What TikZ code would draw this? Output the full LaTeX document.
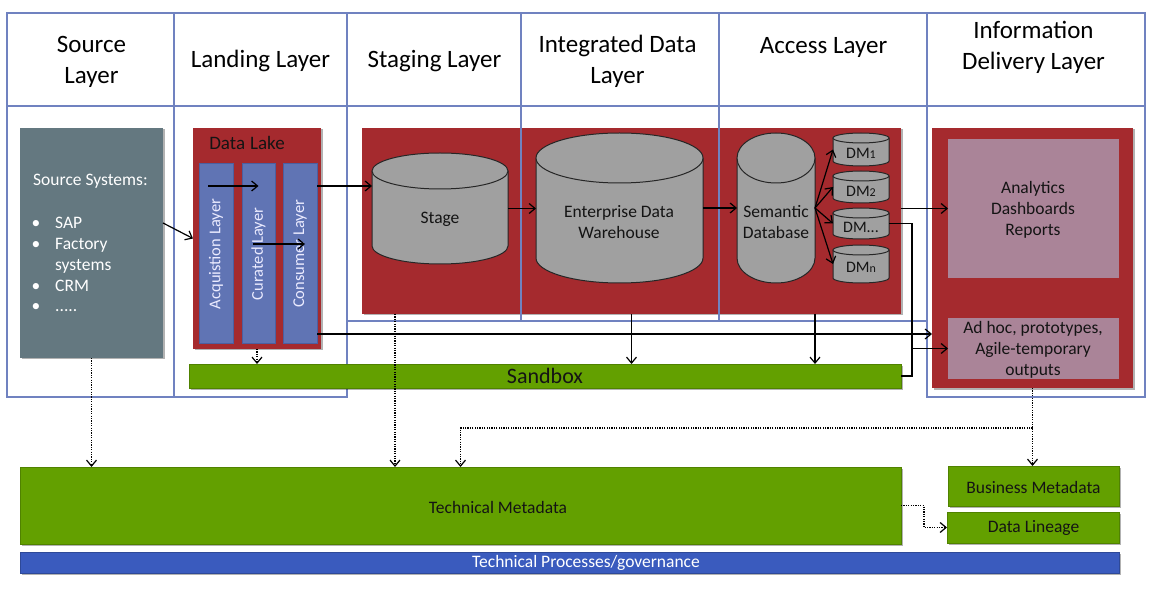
\documentclass[tikz,border=0pt]{standalone}
\usepackage{fontspec}
\setmainfont{Carlito}
\usetikzlibrary{arrows.meta,shadows,calc}
\definecolor{frameblue}{RGB}{112,130,192}
\definecolor{srcgray}{RGB}{100,120,128}
\definecolor{lakered}{RGB}{165,42,46}
\definecolor{colblue}{RGB}{96,116,180}
\definecolor{colbluedark}{RGB}{75,95,160}
\definecolor{cylgray}{RGB}{160,160,160}
\definecolor{pinkbox}{RGB}{170,132,152}
\definecolor{sgreen}{RGB}{99,160,0}
\definecolor{sgreendark}{RGB}{80,130,0}
\definecolor{procblue}{RGB}{58,91,190}
\definecolor{txtdark}{RGB}{20,20,20}
\newcommand\mycyl[6]{%
  \pgfmathsetmacro\cx{(#2+#3)/2}%
  \pgfmathsetmacro\rx{(#3-#2)/2}%
  \pgfmathsetmacro\ya{#4+#6}%
  \pgfmathsetmacro\yb{#5-#6}%
  \pgfmathsetmacro\cy{(#4+#5)/2}%
  \pgfmathsetmacro\cw{#3-#2}%
  \pgfmathsetmacro\ch{#5-#4}%
  \fill[cylgray] (#2,\ya) rectangle (#3,\yb);
  \fill[cylgray] (\cx,\yb) ellipse[x radius=\rx, y radius=#6];
  \draw[cylline] (#2,\ya) -- (#2,\yb) arc[start angle=180, end angle=0, x radius=\rx, y radius=#6] -- (#3,\ya);
  \filldraw[fill=cylgray, cylline] (\cx,\ya) ellipse[x radius=\rx, y radius=#6];
  \node[box, minimum width=\cw pt, minimum height=\ch pt] (#1) at (\cx,\cy) {};
}
\begin{document}
\begin{tikzpicture}[x=1pt,y=-1pt,
  frame/.style={draw=frameblue, line width=2pt},
  box/.style={inner sep=0pt, outer sep=0pt},
  shad/.style={drop shadow={shadow xshift=1.5pt,shadow yshift=-1.5pt,opacity=0.3,fill=black}},
  hdr/.style={font=\fontsize{25}{31}\selectfont, align=center, inner sep=0pt, text=black},
  txt/.style={font=\fontsize{17.5}{21}\selectfont, align=center, inner sep=0pt, text=txtdark},
  wtxt/.style={font=\fontsize{17.5}{21}\selectfont, inner sep=0pt, text=white},
  rtxt/.style={font=\fontsize{16.5}{18}\selectfont, inner sep=0pt, text=white!92!blue, rotate=90},
  dmtxt/.style={font=\fontsize{16}{18}\selectfont, inner sep=0pt, text=txtdark},
  arr/.style={-{Straight Barb[length=6pt,width=10pt,line width=1.2pt]}, line width=1.2pt, black},
  dots/.style={arr, dash pattern=on 1.2pt off 1.2pt},
  plain/.style={line width=1.2pt, black},
  cylline/.style={draw=black!85, line width=1pt},
  greenbox/.style={box, shad, fill=sgreen, draw=sgreendark, line width=0.6pt},
  colbox/.style={box, fill=colblue, draw=colbluedark, line width=0.8pt, minimum width=34pt, minimum height=180pt}
]
\useasboundingbox (0,0) rectangle (1156,601);

% big red box (under frames)
\node[box, shad, fill=lakered, minimum width=539pt, minimum height=186pt] (bigred) at (631.5,221) {};

% layer frames
\draw[frame] (7,13) rectangle (174,397);
\draw[frame] (174,13) rectangle (347,397);
\draw[frame] (347,13) rectangle (521,321);
\draw[frame] (521,13) rectangle (719,321);
\draw[frame] (719,13) rectangle (927,321);
\draw[frame] (927,13) rectangle (1145,397);
\draw[frame] (7,106) -- (1145,106);

% headers
\node[hdr] (hsrc) at (91.5,61.5) {Source\\Layer};
\node[hdr] (hland) at (260.5,61) {Landing Layer};
\node[hdr] (hstag) at (434.5,61) {Staging Layer};
\node[hdr] (hint) at (617.5,61.5) {Integrated Data\\Layer};
\node[hdr] (hacc) at (823.5,47) {Access Layer};
\node[hdr] (hinfo) at (1033.5,47.5) {Information\\Delivery Layer};

% source systems
\node[box, shad, fill=srcgray, minimum width=143pt, minimum height=230pt] (srcbox) at (91.5,243) {};
\node[wtxt, anchor=west] (sshead) at (33,181) {Source Systems:};
\node[wtxt, anchor=base] (bu1) at (36,229) {•};
\node[wtxt, anchor=base west] (it1) at (55,229) {SAP};
\node[wtxt, anchor=base] (bu2) at (36,250) {•};
\node[wtxt, anchor=base west] (it2) at (55,250) {Factory};
\node[wtxt, anchor=base west] (it2b) at (55,271) {systems};
\node[wtxt, anchor=base] (bu3) at (36,292) {•};
\node[wtxt, anchor=base west] (it3) at (55,292) {CRM};
\node[wtxt, anchor=base] (bu4) at (36,312) {•};
\node[wtxt, anchor=base west] (it4) at (55,312) {.....};

% data lake
\node[box, shad, fill=lakered, minimum width=128pt, minimum height=221pt] (datalake) at (257,238.5) {};
\node[font=\fontsize{19}{20}\selectfont, inner sep=0pt, text=txtdark] (dltxt) at (247,143) {Data\hspace{5pt}Lake};
\node[colbox] (acq) at (216,253) {};
\node[colbox, minimum width=33pt] (cur) at (258.5,253) {};
\node[colbox] (con) at (300,253) {};
\node[rtxt] (acqt) at (216,254) {Acquistion\hspace{4pt}Layer};
\node[rtxt] (curt) at (258.5,254) {Curated Layer};
\node[rtxt] (cont) at (300,254) {Consumer Layer};

% cylinders
\mycyl{stage}{372}{508}{153}{264}{18}
\mycyl{edw}{536}{703}{133}{283}{25}
\mycyl{sem}{737}{815}{133}{283}{25}
\mycyl{dma}{833}{889}{133}{166}{5}
\mycyl{dmb}{833}{889}{171}{203}{5}
\mycyl{dmc}{833}{889}{208}{239}{5}
\mycyl{dmd}{833}{889}{245}{283}{5}
\node[txt] (stagetxt) at (440,219) {Stage};
\node[txt] (edwtxt) at (619,222) {Enterprise Data\\Warehouse};
\node[txt] (semtxt) at (776,222) {Semantic\\Database};
\node[dmtxt] (dmat) at (861,153) {DM{\fontsize{12}{12}\selectfont 1}};
\node[dmtxt] (dmbt) at (861,191) {DM{\fontsize{12}{12}\selectfont 2}};
\node[dmtxt] (dmct) at (861,227) {DM...};
\node[dmtxt] (dmdt) at (861,267) {DM{\fontsize{12}{12}\selectfont n}};

% information delivery
\node[box, shad, fill=lakered, minimum width=201pt, minimum height=260pt] (infored) at (1032.5,258) {};
\node[box, fill=pinkbox, minimum width=171pt, minimum height=139pt] (analytics) at (1033.5,208.5) {};
\node[txt] (antxt) at (1033,210) {Analytics\\Dashboards\\Reports};
\node[box, fill=pinkbox, minimum width=171pt, minimum height=61pt] (adhoc) at (1033.5,348.5) {};
\node[txt] (adtxt) at (1033,350) {Ad hoc, prototypes,\\Agile-temporary\\outputs};

% sandbox
\node[greenbox, minimum width=712pt, minimum height=24pt, font=\fontsize{22}{22}\selectfont, text=txtdark] (sandbox) at (545,376) {Sandbox};

% metadata and governance
\node[greenbox, minimum width=881pt, minimum height=77pt] (techmeta) at (460.5,505.5) {};
\node[txt] (tmtxt) at (498,507) {Technical Metadata};
\node[greenbox, minimum width=171pt, minimum height=40pt] (bizmeta) at (1033.5,486) {};
\node[txt] (bmtxt) at (1033.5,487) {Business Metadata};
\node[greenbox, minimum width=172pt, minimum height=31pt] (lineage) at (1033,527.5) {};
\node[txt] (dltxt2) at (1033.5,528) {Data Lineage};
\node[box, shad, fill=procblue, draw=procblue!80!black, line width=0.6pt, minimum width=1099pt, minimum height=21pt] (techproc) at (569.5,562.5) {};
\node[wtxt] (tptxt) at (586,563) {Technical Processes/governance};

% connectors
\draw[arr] ([yshift=20pt]srcbox.east) -- (datalake.west);
\draw[arr] ([xshift=-8pt,yshift=67pt]acq.center) -- ([yshift=67pt]cur.center);
\draw[arr] ([xshift=-5.5pt,yshift=9pt]cur.center) -- ([xshift=5pt,yshift=9pt]con.center);
\draw[arr] ([yshift=67pt]con.east) -- ([yshift=22.5pt]stage.west);
\draw[arr] (stage.east) -- (stage.east -| edw.west);
\draw[arr] (edw.east) -- (sem.west);
\draw[arr] (sem.east) -- (dma.west);
\draw[arr] (sem.east) -- (dmb.west);
\draw[arr] (sem.east) -- (dmc.west);
\draw[arr] (sem.east) -- (dmd.west);
\draw[arr] (analytics.west -| bigred.east) -- (analytics.west);
\coordinate (jn) at (912,348.5);
\draw[plain] (dmc.east) -| (jn);
\draw[plain] (sandbox.east) -| (jn);
\draw[arr] (jn) -- (adhoc.west);
\draw[arr] ([yshift=-81pt]con.east) -- ([yshift=-81pt]con.east -| infored.west);
\draw[arr] (bigred.south) -- (bigred.south |- sandbox.north);
\draw[arr] (sem.east |- bigred.south) -- (sem.east |- sandbox.north);
\draw[dots] (datalake.south) -- (datalake.south |- sandbox.north);
\draw[dots] (srcbox.south) -- (srcbox.south |- techmeta.north);
\coordinate (stdrop) at ([xshift=33pt]bigred.south west);
\draw[dots] (stdrop) -- (stdrop |- techmeta.north);
\draw[dots] (infored.south) -- (infored.south |- bizmeta.north);
\coordinate (br) at ($(infored.south)+(0,40)$);
\draw[dots] (br) -| (techmeta.north);
\draw[dots] (techmeta.east) -- ++(23,0) |- (lineage.west);
\end{tikzpicture}
\end{document}
